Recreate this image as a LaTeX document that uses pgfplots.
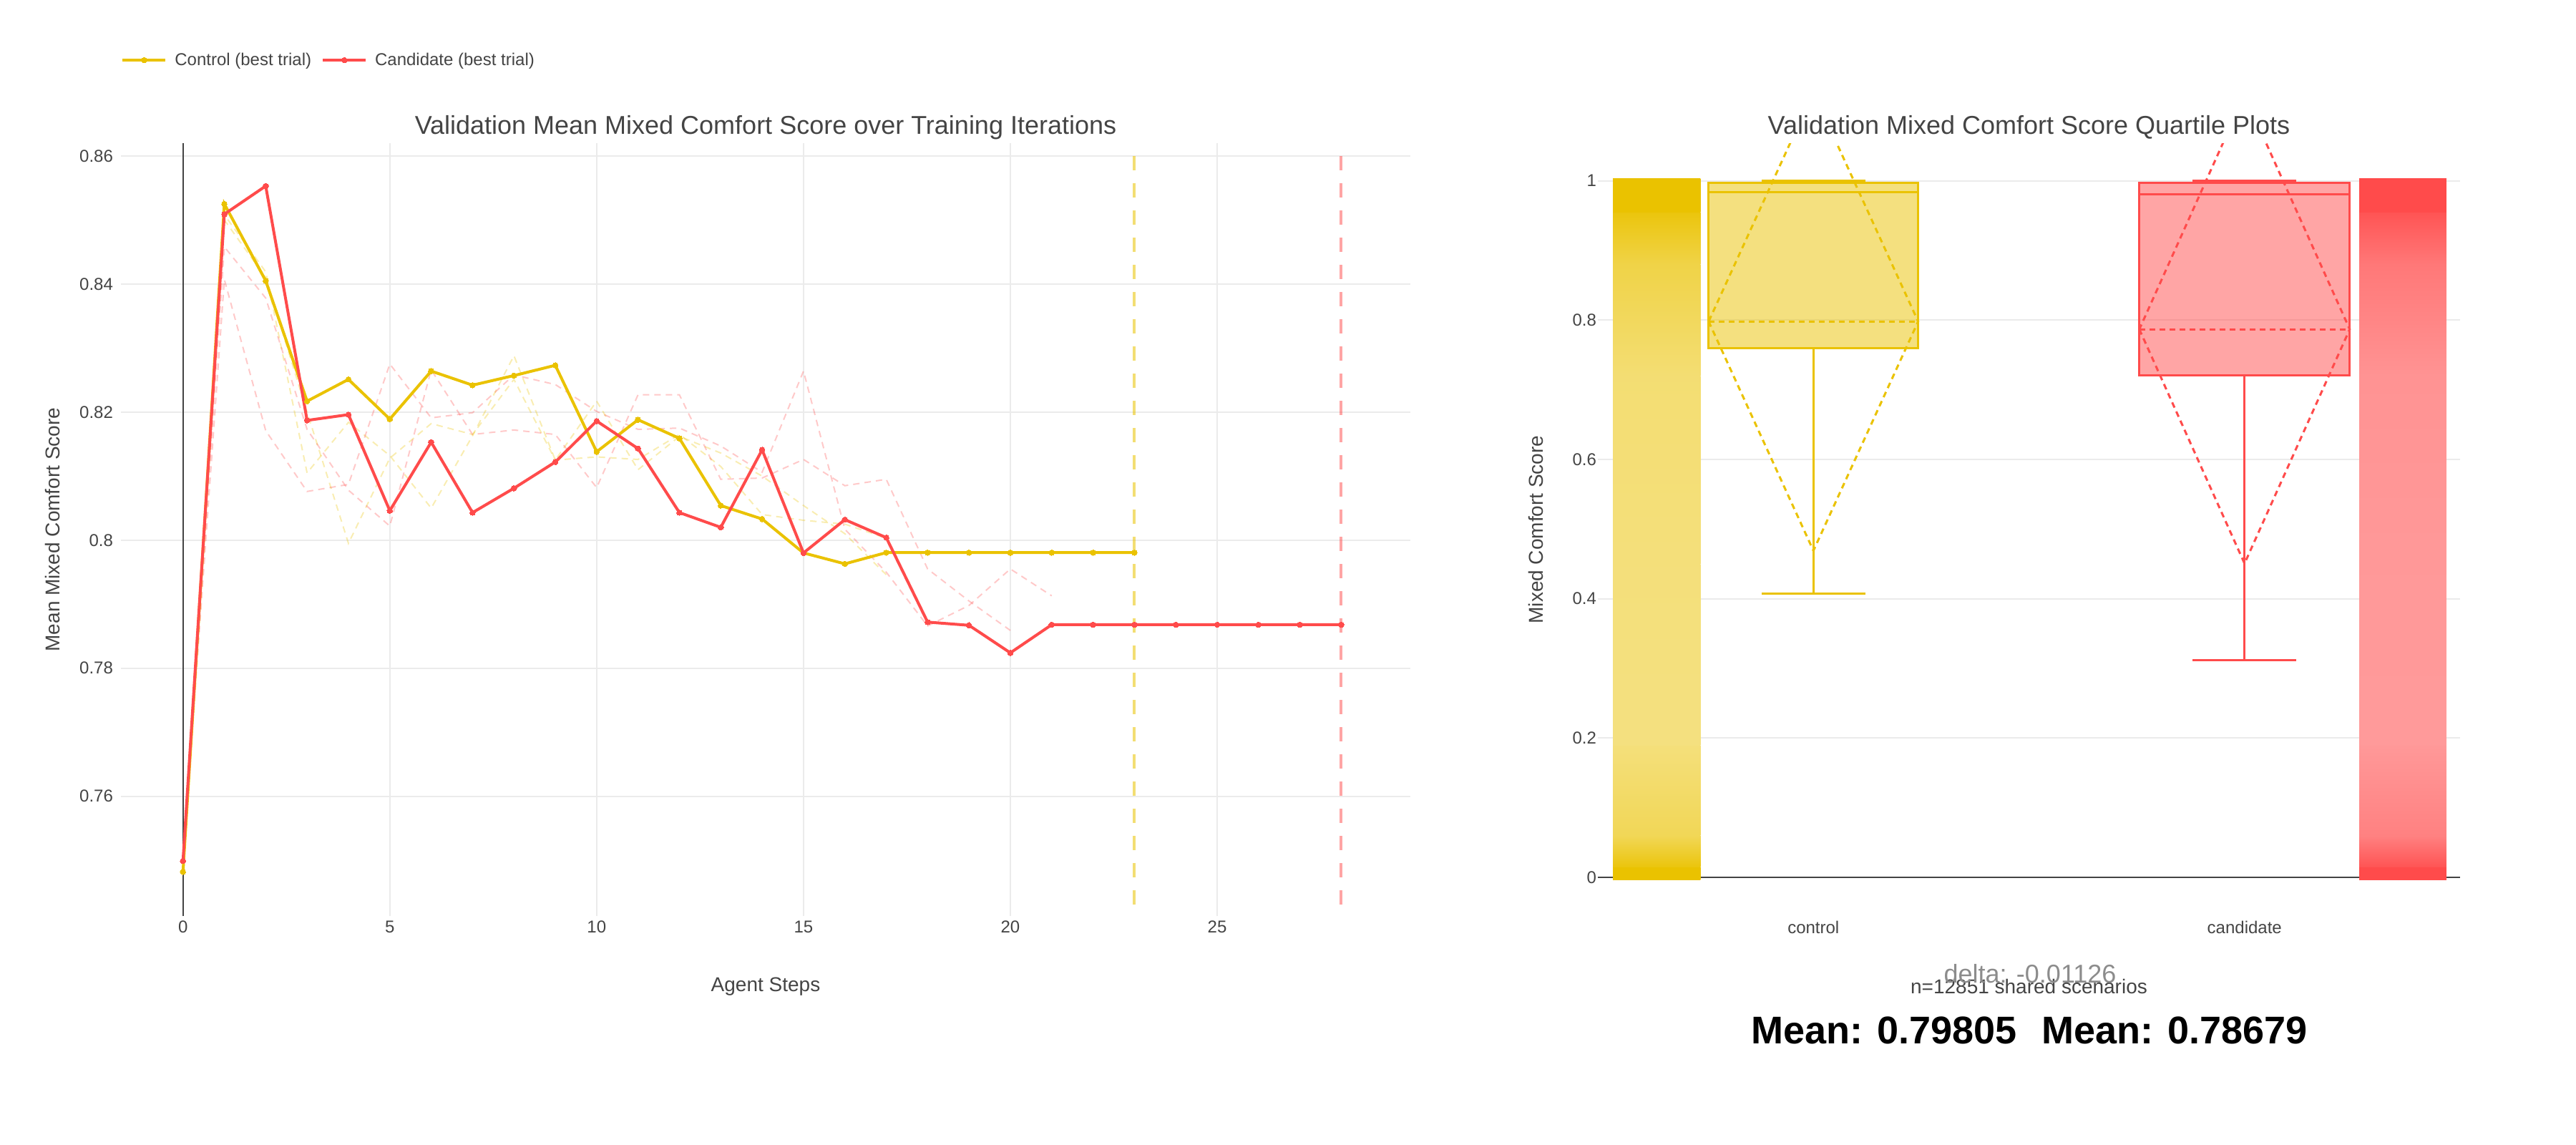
\documentclass[border=0pt]{standalone}
\usepackage{fontspec}
\setmainfont{Liberation Sans}
\usepackage{pgfplots}
\pgfplotsset{compat=1.18}
\usepackage{pgfplotstable}

\definecolor{cY}{RGB}{234,194,0}
\definecolor{cR}{RGB}{255,75,75}
\definecolor{txt}{RGB}{68,68,68}
\definecolor{gridc}{RGB}{235,235,235}
\definecolor{zc}{RGB}{68,68,68}
\newcommand{\fsz}[1]{\fontsize{#1}{#1}\selectfont}

% best trials
\pgfplotstableread{
x y
0 0.7482
1 0.8525
2 0.8405
3 0.8217
4 0.8251
5 0.8189
6 0.8264
7 0.8242
8 0.8257
9 0.8273
10 0.8138
11 0.8188
12 0.8159
13 0.8054
14 0.8033
15 0.7980
16 0.7963
17 0.79805
18 0.79805
19 0.79805
20 0.79805
21 0.79805
22 0.79805
23 0.79805
}\ctrlbest
\pgfplotstableread{
x y
0 0.7499
1 0.8509
2 0.8553
3 0.8187
4 0.8196
5 0.8046
6 0.8153
7 0.8043
8 0.8081
9 0.8122
10 0.8186
11 0.8143
12 0.8043
13 0.8020
14 0.8141
15 0.7980
16 0.8032
17 0.8004
18 0.7872
19 0.7867
20 0.7824
21 0.78679
22 0.78679
23 0.78679
24 0.78679
25 0.78679
26 0.78679
27 0.78679
28 0.78679
}\candbest
% other trials
\pgfplotstableread{
x y
0 0.7482
1 0.8508
2 0.8419
3 0.8105
4 0.8184
5 0.8132
6 0.8050
7 0.8163
8 0.8288
9 0.8125
10 0.8217
11 0.8110
12 0.8162
13 0.8136
14 0.8100
15 0.8054
16 0.8010
17 0.7946
}\ctrlA
\pgfplotstableread{
x y
0 0.7482
1 0.8500
2 0.8410
3 0.8200
4 0.7995
5 0.8128
6 0.8182
7 0.8165
8 0.8251
9 0.8125
10 0.8130
11 0.8126
12 0.8165
13 0.8115
14 0.8040
15 0.8031
16 0.8025
17 0.8003
}\ctrlB
\pgfplotstableread{
x y
0 0.7499
1 0.8458
2 0.8378
3 0.8173
4 0.8078
5 0.8022
6 0.8266
7 0.8165
8 0.8172
9 0.8165
10 0.8082
11 0.8227
12 0.8227
13 0.8095
14 0.8097
15 0.8126
16 0.8085
17 0.8095
18 0.7955
19 0.7905
20 0.7859
}\candA
\pgfplotstableread{
x y
0 0.7499
1 0.8407
2 0.8171
3 0.8076
4 0.8087
5 0.8275
6 0.8191
7 0.8199
8 0.8258
9 0.8243
10 0.8201
11 0.8173
12 0.8175
13 0.8147
14 0.8106
15 0.8264
16 0.8017
17 0.7950
18 0.7866
19 0.7898
20 0.7955
21 0.7913
}\candB

% shaded band of the points strip: color, top %, bottom %, x1, x2, y1 (low), y2 (high)
\newcommand{\sband}[7]{\addplot[draw=none, top color=#1!#2!white, bottom color=#1!#3!white] coordinates {(#4,#6) (#5,#6) (#5,#7) (#4,#7)} --cycle;}

\pgfplotsset{
  common/.style={
    scale only axis,
    axis line style={draw=none},
    major tick length=0pt,
    tick label style={font=\fsz{12}, text=txt},
    /pgf/number format/assume math mode=true,
    major grid style={color=gridc, line width=1pt},
    title style={at={(axis description cs:0.5,1)}, anchor=center, yshift=5pt, font=\fsz{18}, text=txt},
    label style={font=\fsz{14}, text=txt},
    clip=true,
  }
}

\begin{document}
\begin{tikzpicture}
\path[use as bounding box] (0pt,0pt) rectangle (1800pt,-800pt);

% ---------------- left: training curves ----------------
\begin{axis}[common,
  at={(84.5pt,-640pt)}, anchor=south west,
  width=901pt, height=540pt,
  xmin=-1.5, xmax=29.67, ymin=0.7413, ymax=0.862,
  xtick={0,5,10,15,20,25},
  ytick={0.76,0.78,0.8,0.82,0.84,0.86},
  yticklabel style={/pgf/number format/fixed, /pgf/number format/precision=2, xshift=-2pt},
  xmajorgrids, ymajorgrids,
  title={Validation Mean Mixed Comfort Score over Training Iterations},
  xlabel={Agent Steps},
  xlabel style={at={(axis description cs:0.5,-0.091)}, anchor=center},
  ylabel={Mean Mixed Comfort Score},
  ylabel style={at={(axis description cs:-0.053,0.5)}, anchor=center},
  legend columns=2,
  legend cell align=left,
  legend image code/.code={\draw[mark repeat=2,mark phase=2,#1] plot coordinates {(0pt,0pt)(15pt,0pt)(30pt,0pt)};},
  legend style={at={(axis description cs:0,1)}, anchor=west, yshift=58pt,
    draw=none, fill=none, inner sep=0pt, font=\fsz{12}, text=txt,
    nodes={inner sep=0pt},
    /tikz/every odd column/.style={column sep=5.5pt},
    /tikz/every even column/.style={column sep=7pt}},
]
\addplot[zc, line width=1pt, forget plot] coordinates {(0,0.7413) (0,0.862)};
\addplot[cY, opacity=0.3, line width=1pt, dash pattern=on 4.5pt off 3.5pt, forget plot] table {\ctrlA};
\addplot[cY, opacity=0.3, line width=1pt, dash pattern=on 4.5pt off 3.5pt, forget plot] table {\ctrlB};
\addplot[cR, opacity=0.3, line width=1pt, dash pattern=on 4.5pt off 3.5pt, forget plot] table {\candA};
\addplot[cR, opacity=0.3, line width=1pt, dash pattern=on 4.5pt off 3.5pt, forget plot] table {\candB};
\addplot[cY, opacity=0.55, line width=2pt, dash pattern=on 10pt off 9pt, dash phase=10pt, forget plot] coordinates {(23,0.862) (23,0.7413)};
\addplot[cR, opacity=0.5, line width=2pt, dash pattern=on 10pt off 9pt, dash phase=10pt, forget plot] coordinates {(28,0.862) (28,0.7413)};
\addplot[cY, line width=2pt, mark=*, mark size=1.9pt, mark options={solid, fill=cY, draw=cY, line width=0pt}] table {\ctrlbest};
\addlegendentry{Control (best trial)}
\addplot[cR, line width=2pt, mark=*, mark size=1.9pt, mark options={solid, fill=cR, draw=cR, line width=0pt}] table {\candbest};
\addlegendentry{Candidate (best trial)}
\end{axis}

% ---------------- right: quartile plots ----------------
\begin{axis}[common,
  at={(1116.5pt,-640pt)}, anchor=south west,
  width=602.5pt, height=540pt,
  xmin=-0.5, xmax=1.5, ymin=-0.0554, ymax=1.054,
  xtick={0,1}, xticklabels={control,candidate},
  ytick={0,0.2,0.4,0.6,0.8,1},
  yticklabel style={xshift=2.5pt},
  ymajorgrids,
  title={Validation Mixed Comfort Score Quartile Plots},
  xlabel={n=12851 shared scenarios},
  xlabel style={at={(axis description cs:0.5,-0.091)}, anchor=center},
  ylabel={Mixed Comfort Score},
  ylabel style={at={(axis description cs:-0.0722,0.5)}, anchor=center},
]
\addplot[zc, line width=1pt] coordinates {(-0.5,0) (1.5,0)};
% control points strip (density, shaded)
\sband{cY}{100}{100}{-0.465}{-0.262}{-0.004}{0.015}
\sband{cY}{66}{95}{-0.465}{-0.262}{0.015}{0.06}
\sband{cY}{52}{66}{-0.465}{-0.262}{0.06}{0.19}
\sband{cY}{52}{50}{-0.465}{-0.262}{0.19}{0.45}
\sband{cY}{55}{52}{-0.465}{-0.262}{0.45}{0.72}
\sband{cY}{72}{55}{-0.465}{-0.262}{0.72}{0.88}
\sband{cY}{95}{72}{-0.465}{-0.262}{0.88}{0.955}
\sband{cY}{100}{100}{-0.465}{-0.262}{0.955}{1.003}
% candidate points strip (density, shaded)
\sband{cR}{100}{100}{1.266}{1.468}{-0.004}{0.015}
\sband{cR}{70}{95}{1.266}{1.468}{0.015}{0.06}
\sband{cR}{57}{70}{1.266}{1.468}{0.06}{0.19}
\sband{cR}{57}{56}{1.266}{1.468}{0.19}{0.45}
\sband{cR}{60}{57}{1.266}{1.468}{0.45}{0.72}
\sband{cR}{75}{60}{1.266}{1.468}{0.72}{0.88}
\sband{cR}{95}{75}{1.266}{1.468}{0.88}{0.955}
\sband{cR}{100}{100}{1.266}{1.468}{0.955}{1.003}
% control box
\addplot[cY, line width=1.5pt] coordinates {(0,0.760) (0,0.407)};
\addplot[cY, line width=1.5pt] coordinates {(-0.12,0.407) (0.12,0.407)};
\addplot[cY, line width=1.5pt] coordinates {(-0.12,1.0) (0.12,1.0)};
\addplot[draw=cY, fill=cY, fill opacity=0.5, line width=1.5pt] coordinates {(-0.243,0.760) (0.243,0.760) (0.243,0.997) (-0.243,0.997)} --cycle;
\addplot[cY, line width=1.5pt] coordinates {(-0.243,0.984) (0.243,0.984)};
\addplot[cY, line width=1.5pt, dash pattern=on 4pt off 3pt] coordinates {(-0.243,0.798) (0.243,0.798)};
\addplot[cY, line width=1.5pt, dash pattern=on 4pt off 3pt] coordinates {(-0.243,0.798) (0,0.469) (0.243,0.798) (0,1.127)} --cycle;
% candidate box
\addplot[cR, line width=1.5pt] coordinates {(1,0.721) (1,0.3115)};
\addplot[cR, line width=1.5pt] coordinates {(0.88,0.3115) (1.12,0.3115)};
\addplot[cR, line width=1.5pt] coordinates {(0.88,1.0) (1.12,1.0)};
\addplot[draw=cR, fill=cR, fill opacity=0.5, line width=1.5pt] coordinates {(0.756,0.721) (1.244,0.721) (1.244,0.997) (0.756,0.997)} --cycle;
\addplot[cR, line width=1.5pt] coordinates {(0.756,0.9805) (1.244,0.9805)};
\addplot[cR, line width=1.5pt, dash pattern=on 4pt off 3pt] coordinates {(0.756,0.7868) (1.244,0.7868)};
\addplot[cR, line width=1.5pt, dash pattern=on 4pt off 3pt] coordinates {(0.756,0.7868) (1,0.4506) (1.244,0.7868) (1,1.123)} --cycle;
\end{axis}

\node[font=\fsz{18}, text={rgb,255:red,140;green,140;blue,140}, anchor=center] at (1418.5pt,-680.5pt) {delta: -0.01126};
\node[font=\fsz{27}\bfseries, text=black, anchor=center] at (1316.6pt,-719.7pt) {Mean: 0.79805};
\node[font=\fsz{27}\bfseries, text=black, anchor=center] at (1519.7pt,-719.7pt) {Mean: 0.78679};
\end{tikzpicture}
\end{document}
